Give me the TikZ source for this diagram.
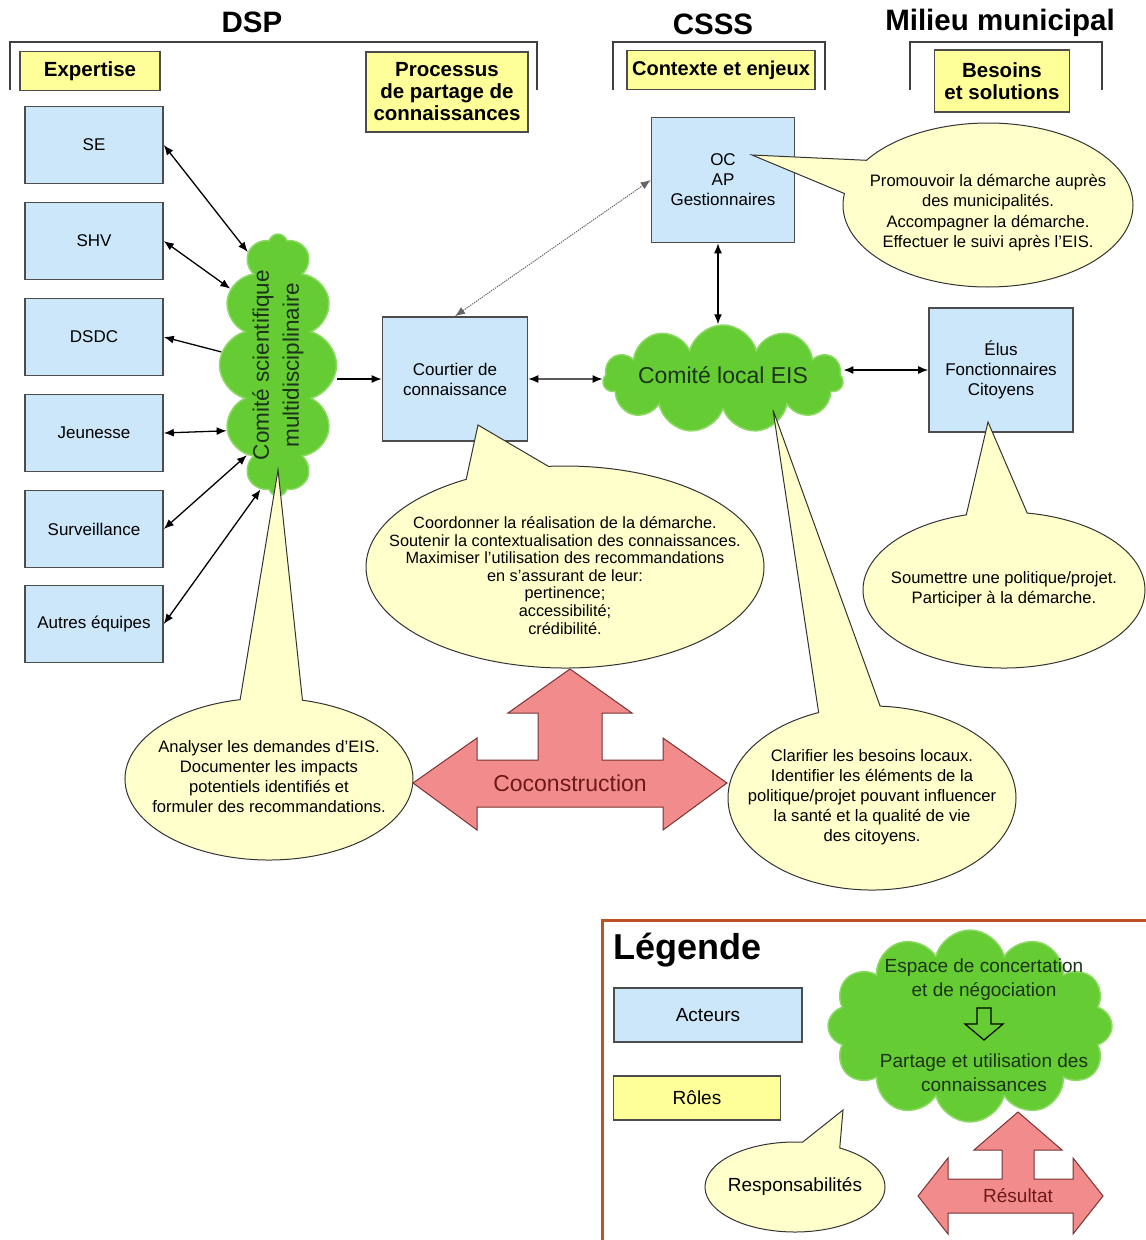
\documentclass[tikz,border=0pt]{standalone}
\usepackage{fontspec}
\setmainfont{Liberation Sans}
\usetikzlibrary{positioning,arrows.meta,shapes.symbols,shapes.callouts}

\definecolor{acteurblue}{RGB}{204,230,250}
\definecolor{roleyellow}{RGB}{255,255,153}
\definecolor{bubbleyellow}{RGB}{255,255,204}
\definecolor{cloudgreen}{RGB}{102,204,51}
\definecolor{cloudtext}{RGB}{28,52,28}
\definecolor{arrowpink}{RGB}{242,140,140}
\definecolor{arrowedge}{RGB}{120,50,50}
\definecolor{cotext}{RGB}{110,25,25}
\definecolor{legendframe}{RGB}{190,80,40}

% text of a cloud or bubble, kept out of the shape size
\newcommand{\shapetext}[2][0pt]{\makebox[0pt]{\smash{\raisebox{\dimexpr-0.25em-#1\relax}{\begin{tabular}{@{}c@{}}#2\end{tabular}}}}}

\tikzset{
  acteur/.style={draw=black!70, line width=1.6pt, fill=acteurblue,
    align=center, font=\fontsize{17}{20}\selectfont},
  role/.style={draw=black!70, line width=1.6pt, fill=roleyellow, inner sep=2pt,
    align=center, font=\bfseries\fontsize{20.5}{22}\selectfont},
  title/.style={font=\bfseries\fontsize{29.5}{31}\selectfont},
  bracket/.style={draw=black!75, line width=1.4pt},
  comite/.style={cloud, cloud puffs=12, cloud ignores aspect, fill=cloudgreen,
    draw=cloudgreen!75!white, line width=1.5pt, inner sep=0pt, text=cloudtext},
  bubble/.style={ellipse callout, fill=bubbleyellow, draw=black!80, line width=1pt,
    inner sep=0pt, font=\fontsize{16.6}{20}\selectfont, callout pointer arc=25},
  link/.style={<->, line width=1.3pt},
  coarrow/.style={fill=arrowpink, draw=arrowedge, line width=1pt},
}

\begin{document}
\begin{tikzpicture}[x=1pt,y=-1pt,>={Latex[length=10pt,width=8pt]}]
    \useasboundingbox (0,0) rectangle (1146,1240);

    % Titles and brackets
    \node[title] (dsp) at (252,22) {DSP};
    \node[title] (csss) at (713,24) {CSSS};
    \node[title] (milieu) at (1000,23) {Milieu municipal};
    \draw[bracket] (10,90) -- (10,42) -- (537,42) -- (537,90);
    \draw[bracket] (613,90) -- (613,42) -- (825,42) -- (825,90);
    \draw[bracket] (910,90) -- (910,42) -- (1102,42) -- (1102,90);

    % Roles
    \node[role, minimum width=140pt, minimum height=39pt] (expertise) at (90,71) {Expertise};
    \node[role, minimum width=162pt, minimum height=80pt] (processus) at (447,92) {Processus\\de partage de\\connaissances};
    \node[role, minimum width=188pt, minimum height=39pt, font=\bfseries\fontsize{20}{22}\selectfont] (contexte) at (721,70) {Contexte et enjeux};
    \node[role, minimum width=135pt, minimum height=62pt] (besoins) at (1002,81) {Besoins\\et solutions};

    % Teams of the DSP
    \foreach \name/\y/\label in {se/145/SE, shv/241/SHV, dsdc/337/DSDC, jeunesse/433/Jeunesse, surveillance/529/Surveillance, autres/624/Autres équipes} {
      \node[acteur, minimum width=138pt, minimum height=77pt] (\name) at (94,\y) {\label};
    }

    % Other actors
    \node[acteur, minimum width=145pt, minimum height=124pt] (courtier) at (455,379) {Courtier de\\connaissance};
    \node[acteur, minimum width=143pt, minimum height=125pt] (oc) at (723,180) {OC\\AP\\Gestionnaires};
    \node[acteur, minimum width=144pt, minimum height=124pt] (elus) at (1001,370) {Élus\\Fonctionnaires\\Citoyens};

    % Committees
    \node[comite, minimum width=117pt, minimum height=262pt] (csm) at (278,365) {};
    \node[rotate=90, align=center, text=cloudtext, font=\fontsize{22.5}{30}\selectfont] (csmlabel) at (csm.center) {Comité scientifique\\multidisciplinaire};
    \node[comite, cloud puffs=11, minimum width=240pt, minimum height=108pt, font=\fontsize{23}{26}\selectfont] (comitelocal) at (723,379) {\shapetext{Comité local EIS}};

    % Links
    \foreach \name/\a in {se/105, shv/122, jeunesse/232, surveillance/251, autres/262} {
      \draw[link] (\name.east) -- (csm.\a);
    }
    \draw[<-, line width=1.3pt] (dsdc.east) -- (csm.167);
    \draw[->, line width=1.3pt] (csm.east |- courtier.west) -- (courtier.west);
    \draw[link] (courtier.east) -- (comitelocal.west);
    \draw[link] (comitelocal.east |- elus.west) -- (elus.west);
    \draw[link] ([xshift=-5pt]oc.south) -- ([xshift=-5pt]oc.south |- comitelocal.north);
    \draw[link, black!60, densely dotted, line width=1pt] (courtier.north) -- (oc.west);

    % Responsibilities
    \coordinate (octip) at (752,155);
    \coordinate (courtiertip) at (478,425);
    \coordinate (csmtip) at (278,470);
    \coordinate (localtip) at (773,410);
    \coordinate (elustip) at (988,422);
    \node[bubble, minimum width=290pt, minimum height=164pt, font=\fontsize{16.6}{20.4}\selectfont, callout absolute pointer={(octip)}] (ocrole) at (988,205) {\shapetext[8pt]{Promouvoir la démarche auprès\\des municipalités.\\Accompagner la démarche.\\Effectuer le suivi après l'EIS.}};
    \node[bubble, minimum width=398pt, minimum height=202pt, font=\fontsize{16.3}{17.6}\selectfont, callout absolute pointer={(courtiertip)}] (courtierrole) at (565,567) {\shapetext[11pt]{Coordonner la réalisation de la démarche.\\Soutenir la contextualisation des connaissances.\\Maximiser l'utilisation des recommandations\\en s'assurant de leur:\\pertinence;\\accessibilité;\\crédibilité.}};
    \node[bubble, minimum width=288pt, minimum height=162pt, callout absolute pointer={(csmtip)}] (csmrole) at (269,779) {\shapetext{Analyser les demandes d'EIS.\\Documenter les impacts\\potentiels identifiés et\\formuler des recommandations.}};
    \node[bubble, minimum width=288pt, minimum height=184pt, callout absolute pointer={(localtip)}] (localrole) at (872,798) {\shapetext{Clarifier les besoins locaux.\\Identifier les éléments de la\\politique/projet pouvant influencer\\la santé et la qualité de vie\\des citoyens.}};
    \node[bubble, minimum width=282pt, minimum height=156pt, callout absolute pointer={(elustip)}] (elusrole) at (1004,590) {\shapetext{Soumettre une politique/projet.\\Participer à la démarche.}};

    % Coconstruction
    \filldraw[coarrow] (413,783) -- (477,738) -- (477,760) -- (538,760) -- (538,713) -- (508,713) -- (570,669) -- (632,713) -- (602,713) -- (602,760) -- (663,760) -- (663,738) -- (727,783) -- (663,830) -- (663,807) -- (477,807) -- (477,830) -- cycle;
    \node[text=cotext, font=\fontsize{23}{26}\selectfont] (coconstruction) at (570,783) {Coconstruction};

    % Legend
    \draw[legendframe, line width=3pt] (602,920) rectangle (1170,1270);
    \node[font=\bfseries\fontsize{36}{40}\selectfont, anchor=west] (legende) at (610,950) {Légende};
    \node[acteur, minimum width=188pt, minimum height=54pt, font=\fontsize{19}{22}\selectfont] (legacteurs) at (708,1015) {Acteurs};
    \node[role, minimum width=167pt, minimum height=44pt, font=\fontsize{19}{22}\selectfont] (legroles) at (697,1098) {Rôles};
    \node[comite, minimum width=284pt, minimum height=192pt] (legcloud) at (970,1026) {};
    \node[text=cloudtext, align=center, font=\fontsize{19}{24}\selectfont] (legtop) at (984,980) {Espace de concertation\\et de négociation};
    \node[text=cloudtext, align=center, font=\fontsize{19}{24}\selectfont] (legbottom) at (984,1073) {Partage et utilisation des\\connaissances};
    \coordinate (legflow) at (984,1008);
    \draw[fill=cloudgreen, line width=1.2pt] (legflow) ++(-7,0) -- ++(14,0) -- ++(0,16) -- ++(12,0) -- ++(-19,16) -- ++(-19,-16) -- ++(12,0) -- cycle;
    \coordinate (legtip) at (843,1110);
    \node[bubble, minimum width=180pt, minimum height=90pt, font=\fontsize{19}{22}\selectfont, callout absolute pointer={(legtip)}] (legresp) at (795,1187) {\shapetext{Responsabilités}};
    \filldraw[coarrow] (918,1196) -- (948,1158) -- (948,1179) -- (1002,1179) -- (1002,1150) -- (974,1150) -- (1018,1112) -- (1062,1150) -- (1034,1150) -- (1034,1179) -- (1073,1179) -- (1073,1158) -- (1103,1196) -- (1073,1234) -- (1073,1213) -- (948,1213) -- (948,1234) -- cycle;
    \node[text=cotext, font=\fontsize{19}{22}\selectfont] (resultat) at (1018,1196) {Résultat};

\end{tikzpicture}
\end{document}
